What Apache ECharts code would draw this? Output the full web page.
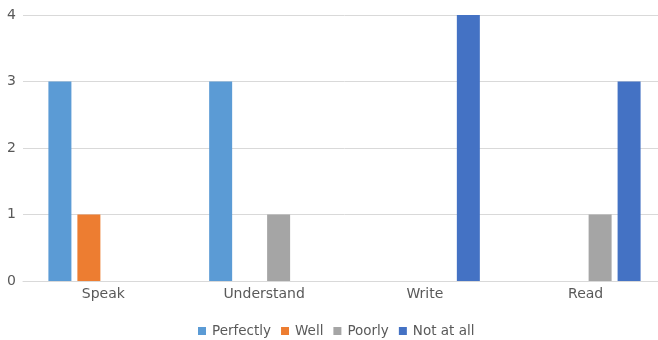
<!DOCTYPE html>
<html>
<head>
<meta charset="utf-8">
<script src="https://cdn.jsdelivr.net/npm/echarts@6/dist/echarts.min.js"></script>
<style>
  html, body { margin: 0; padding: 0; background: #fff; overflow: hidden; }
  #wrap { width: 658px; height: 340px; overflow: hidden; }
  #chart { width: 666px; height: 340px; }
</style>
</head>
<body>
<div id="wrap"><div id="chart"></div></div>
<script>
// Language skills by level
const categories = ['Speak', 'Understand', 'Write', 'Read'];
const perfectly = [3, 3, 0, 0];
const well = [1, 0, 0, 0];
const poorly = [0, 1, 0, 1];
const notAtAll = [0, 0, 4, 3];
const yTicks = [0, 1, 2, 3, 4];

const textColor = '#595959';
const gridColor = '#D9D9D9';
const font = 'DejaVu Sans';

// hide zero-height bars
const toData = arr => arr.map(v => (v === 0 ? null : v));

function barSeries(name, values, color) {
  return {
    name: name,
    type: 'bar',
    data: toData(values),
    barWidth: 23,
    barGap: '26%',
    itemStyle: { color: color },
    emphasis: { disabled: true }
  };
}

const chart = echarts.init(document.getElementById('chart'), null, { renderer: 'canvas' });
chart.setOption({
  animation: false,
  backgroundColor: '#ffffff',
  textStyle: { fontFamily: font },
  grid: { left: 23, top: 15, right: 0, bottom: 59, containLabel: false },
  legend: {
    top: 319,
    left: 193,
    itemWidth: 8,
    itemHeight: 8,
    itemGap: 10,
    icon: 'rect',
    textStyle: { color: textColor, fontSize: 13.5, fontFamily: font, padding: [0, 0, 0, 1] }
  },
  xAxis: {
    type: 'category',
    data: categories,
    axisLine: { lineStyle: { color: gridColor, width: 1 } },
    axisTick: { show: false },
    axisLabel: { color: textColor, fontSize: 14, margin: 6, fontFamily: font }
  },
  yAxis: {
    type: 'value',
    min: yTicks[0],
    max: yTicks[yTicks.length - 1],
    interval: 1,
    axisLine: { show: false },
    axisTick: { show: false },
    splitLine: { lineStyle: { color: gridColor, width: 1 } },
    axisLabel: { color: textColor, fontSize: 14, margin: 7, fontFamily: font }
  },
  series: [
    barSeries('Perfectly', perfectly, '#5B9BD5'),
    barSeries('Well', well, '#ED7D31'),
    barSeries('Poorly', poorly, '#A5A5A5'),
    barSeries('Not at all', notAtAll, '#4472C4')
  ]
});
</script>
</body>
</html>
